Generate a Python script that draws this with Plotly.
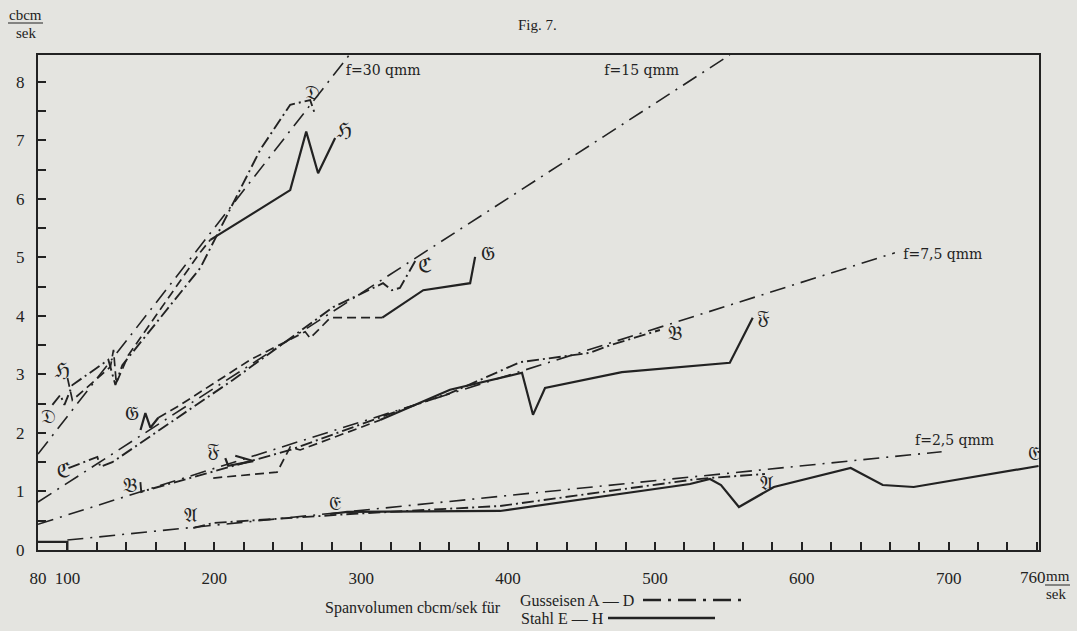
import plotly.graph_objects as go

# ---------------- data ----------------
# reference lines f = const (qmm)
f30_x = [80, 291.9];  f30_y = [1.64, 8.46]
f15_x = [80, 551.0];  f15_y = [0.82, 8.46]
f75_x = [80, 663.4];  f75_y = [0.44, 5.08]
f25_x = [100, 695.2]; f25_y = [0.17, 1.68]

# Gusseisen A - D (dash-dot)
A_x = [185.7, 199.3, 292.5, 394.6, 523.9, 537.5, 574.9]
A_y = [0.376, 0.462, 0.615, 0.752, 1.197, 1.231, 1.299]
B_x = [149.7, 150.3, 155.1, 251.7, 326.5, 360.5, 408.2, 455.8, 469.4, 503.4]
B_y = [1.16, 0.99, 1.03, 1.71, 2.39, 2.68, 3.21, 3.37, 3.50, 3.76]
C_x = [100.7, 120.4, 122.4, 130.6, 212.9, 280.9, 314.9, 321.0, 326.4, 338.0]
C_y = [1.40, 1.59, 1.42, 1.50, 2.91, 4.15, 4.56, 4.44, 4.48, 4.99]
D_x = [89.8, 95.2, 98.0, 103.4, 127.9, 132.7, 137.4, 190.5, 231.3, 251.7, 265.3, 268.7]
D_y = [2.48, 2.65, 2.48, 2.82, 3.25, 2.82, 3.16, 4.82, 6.84, 7.61, 7.69, 7.44]

# Stahl E - H (solid; dashed where interpolated)
E_x = [278.9, 290.5, 394.6, 523.9, 537.5, 545.0, 557.2, 581.0, 633.3, 655.1, 676.2, 761.2]
E_y = [0.615, 0.650, 0.667, 1.128, 1.214, 1.111, 0.735, 1.077, 1.402, 1.111, 1.077, 1.436]
E0_x = [80, 100, 100]
E0_y = [0.14, 0.14, 0.0]
F_dash_x = [199.3, 242.8, 251.7, 258.5, 312.9]
F_dash_y = [1.23, 1.33, 1.76, 1.71, 2.22]
F_tri_x = [207.5, 209.5, 226.5, 214.3]
F_tri_y = [1.57, 1.44, 1.52, 1.61]
F_x = [312.9, 360.5, 409.5, 417.0, 425.2, 477.5, 551.0, 566.6]
F_y = [2.22, 2.74, 3.03, 2.31, 2.77, 3.04, 3.20, 3.97]
G_zig_x = [149.8, 153.1, 156.5, 161.9]
G_zig_y = [2.05, 2.34, 2.09, 2.26]
G_dash_x = [161.9, 176.9, 224.5, 261.9, 265.3, 279.0, 314.4]
G_dash_y = [2.26, 2.48, 3.25, 3.73, 3.62, 3.97, 3.97]
G_x = [314.4, 342.3, 374.2, 377.6]
G_y = [3.97, 4.44, 4.56, 5.01]
H_dash_x = [100.1, 103.4, 129.3, 131.4, 133.3, 141.5, 190.5, 197.3]
H_dash_y = [2.94, 2.56, 3.13, 3.42, 2.85, 3.33, 5.09, 5.30]
H_x = [197.3, 251.7, 262.6, 270.7, 282.3]
H_y = [5.30, 6.15, 7.15, 6.44, 7.04]

# curve labels
lab_text = ["𝔄", "𝔄", "𝔅", "𝔅", "ℭ", "ℭ", "𝔇", "𝔇", "𝔈", "𝔈", "𝔉", "𝔉", "𝔊", "𝔊", "ℌ", "ℌ"]
lab_x = [183.7, 576.2, 142.9, 513.6, 97.3, 343.5, 87.1, 267.0, 282.3, 757.8, 199.3, 574.0, 144.2, 386.5, 96.6, 288.5]
lab_y = [0.56, 1.11, 1.08, 3.68, 1.33, 4.84, 2.26, 7.80, 0.77, 1.62, 1.68, 3.95, 2.31, 5.04, 3.04, 7.15]

f_text = ["f=30 qmm", "f=15 qmm", "f=7,5 qmm", "f=2,5 qmm"]
f_lab_x = [315, 491, 696, 704]
f_lab_y = [8.17, 8.17, 5.04, 1.86]

xtick_vals = list(range(80, 761, 20))
xtick_text = {80: "80", 100: "100", 200: "200", 300: "300", 400: "400",
              500: "500", 600: "600", 700: "700"}
ytick_vals = [i * 0.5 for i in range(0, 17)]

# ---------------- style ----------------
INK = "#222222"
BG = "#e4e4e0"
GUSS = "12px,4px,2px,4px"
REF = "16px,7px,2px,7px"
FONT = "Liberation Serif"

fig = go.Figure()

def add(x, y, dash="solid", width=2.0):
    fig.add_trace(go.Scatter(x=x, y=y, mode="lines", showlegend=False,
                             line=dict(color=INK, width=width, dash=dash),
                             hoverinfo="skip"))

for xs, ys in [(f30_x, f30_y), (f15_x, f15_y), (f75_x, f75_y), (f25_x, f25_y)]:
    add(xs, ys, REF, 1.6)
for xs, ys in [(A_x, A_y), (B_x, B_y), (C_x, C_y), (D_x, D_y)]:
    add(xs, ys, GUSS, 1.9)
for xs, ys in [(E_x, E_y), (E0_x, E0_y), (F_tri_x, F_tri_y), (F_x, F_y),
               (G_zig_x, G_zig_y), (G_x, G_y), (H_x, H_y)]:
    add(xs, ys, "solid", 2.2)
for xs, ys in [(F_dash_x, F_dash_y), (G_dash_x, G_dash_y), (H_dash_x, H_dash_y)]:
    add(xs, ys, "9px,5px", 1.7)

fig.add_trace(go.Scatter(x=lab_x, y=lab_y, mode="text", text=lab_text, showlegend=False,
                         textfont=dict(family="DejaVu Sans, " + FONT, size=20, color=INK),
                         hoverinfo="skip"))
fig.add_trace(go.Scatter(x=f_lab_x, y=f_lab_y, mode="text", text=f_text, showlegend=False,
                         textfont=dict(family="DejaVu Serif", size=14, color=INK),
                         hoverinfo="skip"))

fig.update_xaxes(range=[80, 761.5], tickmode="array", tickvals=xtick_vals,
                 ticktext=[xtick_text.get(v, "") for v in xtick_vals],
                 ticks="inside", ticklen=8, tickwidth=1.5, tickcolor=INK,
                 showline=True, linecolor=INK, linewidth=2, mirror=True,
                 showgrid=False, zeroline=False, ticklabelstandoff=12,
                 tickfont=dict(family=FONT, size=17, color=INK))
fig.update_yaxes(range=[0, 8.46], tickmode="array", tickvals=ytick_vals,
                 ticktext=[str(int(v)) if v == int(v) else "" for v in ytick_vals],
                 ticks="inside", ticklen=8, tickwidth=1.5, tickcolor=INK,
                 showline=True, linecolor=INK, linewidth=2, mirror=True,
                 showgrid=False, zeroline=False, ticklabelstandoff=8,
                 tickfont=dict(family=FONT, size=17, color=INK))

ann = [
    dict(text="Fig. 7.", x=537, y=25, size=15),
    dict(text="cbcm", x=25, y=15, size=15),
    dict(text="sek", x=26, y=33, size=15),
    dict(text="760", x=1033, y=577, size=17),
    dict(text="mm", x=1058, y=576, size=15),
    dict(text="sek", x=1056, y=594, size=15),
    dict(text="Spanvolumen cbcm/sek für", x=413, y=608, size=16),
    dict(text="Gusseisen A — D", x=577, y=600, size=16),
    dict(text="Stahl E — H", x=562, y=618, size=16),
]
for a in ann:
    fig.add_annotation(text=a["text"], xref="paper", yref="paper",
                       x=(a["x"] - 38) / 1001, y=(550 - a["y"]) / 495,
                       showarrow=False, xanchor="center", yanchor="middle",
                       font=dict(family=FONT, size=a["size"], color=INK))

def pshape(x0, y0, x1, y1, dash, width=2):
    fig.add_shape(type="line", xref="paper", yref="paper",
                  x0=(x0 - 38) / 1001, x1=(x1 - 38) / 1001,
                  y0=(550 - y0) / 495, y1=(550 - y1) / 495,
                  line=dict(color=INK, width=width, dash=dash))

pshape(8, 23, 43, 23, "solid", 1)
pshape(1045, 585, 1070, 585, "solid", 1)
pshape(643, 600, 748, 600, "18px,7px,3px,7px", 2.5)
pshape(608, 618, 715, 618, "solid", 2.5)

fig.update_layout(width=1077, height=631, autosize=False,
                  margin=dict(l=38, r=38, t=55, b=81),
                  paper_bgcolor=BG, plot_bgcolor=BG,
                  font=dict(family=FONT, color=INK))

fig.write_html("out.html",
               config={"displayModeBar": False},
               post_script="document.body.style.margin='0';"
                           "document.body.style.background='" + BG + "';"
                           "document.body.style.overflow='hidden';")
